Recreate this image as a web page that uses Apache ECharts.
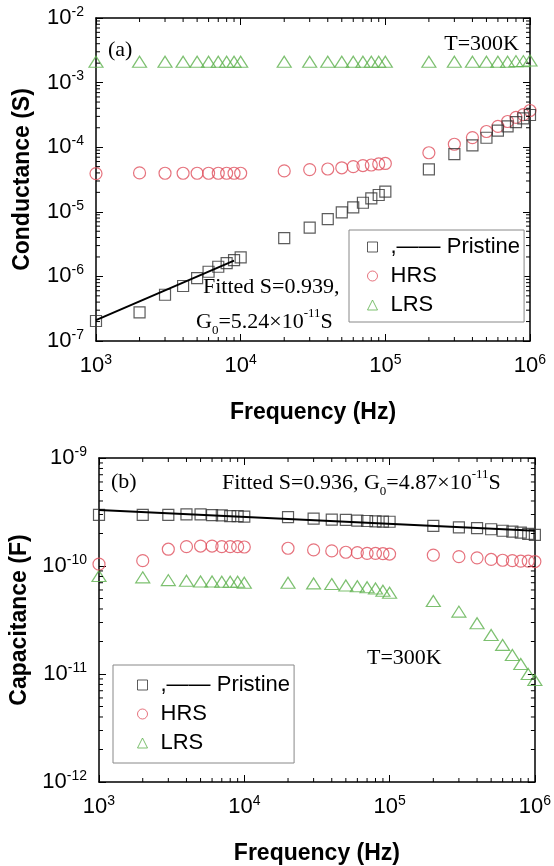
<!DOCTYPE html>
<html>
<head>
<meta charset="utf-8">
<script src="https://cdn.jsdelivr.net/npm/echarts@6/dist/echarts.min.js"></script>
<style>
  html, body { margin: 0; padding: 0; background: #fff; }
  #main { width: 554px; height: 866px; }
</style>
</head>
<body>
<div id="main"></div>
<script>
// frequencies (Hz)
var freq = [1e3, 2e3, 3e3, 4e3, 5e3, 6e3, 7e3, 8e3, 9e3, 1e4,
            2e4, 3e4, 4e4, 5e4, 6e4, 7e4, 8e4, 9e4, 1e5,
            2e5, 3e5, 4e5, 5e5, 6e5, 7e5, 8e5, 9e5, 1e6];

// (a) conductance (S)
var condPristine = [2.04e-7, 2.78e-7, 5.2e-7, 7.1e-7, 9.4e-7, 1.18e-6, 1.41e-6, 1.6e-6, 1.79e-6, 1.97e-6,
                    3.9e-6, 5.7e-6, 7.7e-6, 9.8e-6, 1.17e-5, 1.38e-5, 1.61e-5, 1.82e-5, 2.05e-5,
                    4.55e-5, 7.8e-5, 1.07e-4, 1.4e-4, 1.8e-4, 2.1e-4, 2.45e-4, 2.8e-4, 3.15e-4];
var condHRS = [3.9e-5, 4.0e-5, 3.95e-5, 3.95e-5, 3.95e-5, 3.95e-5, 3.95e-5, 3.95e-5, 3.95e-5, 3.95e-5,
               4.3e-5, 4.5e-5, 4.6e-5, 4.8e-5, 5.0e-5, 5.2e-5, 5.3e-5, 5.5e-5, 5.6e-5,
               8.2e-5, 1.11e-4, 1.41e-4, 1.75e-4, 2.1e-4, 2.5e-4, 2.9e-4, 3.2e-4, 3.7e-4];
var condLRS = [2.1e-3, 2.1e-3, 2.1e-3, 2.1e-3, 2.1e-3, 2.1e-3, 2.1e-3, 2.1e-3, 2.1e-3, 2.1e-3,
               2.1e-3, 2.1e-3, 2.1e-3, 2.1e-3, 2.1e-3, 2.1e-3, 2.1e-3, 2.1e-3, 2.1e-3,
               2.1e-3, 2.1e-3, 2.1e-3, 2.1e-3, 2.1e-3, 2.1e-3, 2.15e-3, 2.15e-3, 2.2e-3];
var condFit = [[1e3, 2.1e-7], [9e3, 1.75e-6]];

// (b) capacitance (F)
var capPristine = [2.97e-10, 2.97e-10, 2.97e-10, 3.01e-10, 3.01e-10, 2.96e-10, 2.94e-10, 2.9e-10, 2.9e-10, 2.86e-10,
                   2.84e-10, 2.74e-10, 2.69e-10, 2.67e-10, 2.63e-10, 2.61e-10, 2.59e-10, 2.58e-10, 2.57e-10,
                   2.35e-10, 2.28e-10, 2.24e-10, 2.19e-10, 2.12e-10, 2.08e-10, 2.04e-10, 1.98e-10, 1.94e-10];
var capHRS = [1.04e-10, 1.12e-10, 1.43e-10, 1.51e-10, 1.53e-10, 1.53e-10, 1.51e-10, 1.51e-10, 1.51e-10, 1.5e-10,
              1.46e-10, 1.41e-10, 1.38e-10, 1.34e-10, 1.33e-10, 1.31e-10, 1.31e-10, 1.3e-10, 1.29e-10,
              1.26e-10, 1.22e-10, 1.19e-10, 1.15e-10, 1.13e-10, 1.12e-10, 1.11e-10, 1.11e-10, 1.1e-10];
var capLRS = [8.07e-11, 7.85e-11, 7.4e-11, 7.3e-11, 7.2e-11, 7.2e-11, 7.15e-11, 7.15e-11, 7.15e-11, 7.0e-11,
              7.0e-11, 6.9e-11, 6.8e-11, 6.6e-11, 6.5e-11, 6.35e-11, 6.2e-11, 5.9e-11, 5.66e-11,
              4.74e-11, 3.78e-11, 2.95e-11, 2.3e-11, 1.86e-11, 1.5e-11, 1.24e-11, 1.0e-11, 8.8e-12];
var capFit = [[1e3, 3.3e-10], [1e6, 2.12e-10]];

// minor tick positions (2..9 within each decade)
var mant = [2, 3, 4, 5, 6, 7, 8, 9];
var xDecades = [1e3, 1e4, 1e5];
var yDecadesA = [1e-7, 1e-6, 1e-5, 1e-4, 1e-3];
var yDecadesB = [1e-12, 1e-11, 1e-10];

function minors(decades) {
  var out = [];
  decades.forEach(function (d) { mant.forEach(function (m) { out.push(m * d); }); });
  return out;
}

var sans = '"Liberation Sans", Arial, sans-serif';
var serif = '"Liberation Serif", "Times New Roman", serif';
var colBlack = '#333333', colRed = '#e0505e', colGreen = '#5cb04c';

function pair(ys) { return freq.map(function (f, i) { return [f, ys[i]]; }); }

var powLabel = {
  color: '#000',
  formatter: function (v) { return '{b|10}{s|' + Math.round(Math.log10(v)) + '}'; },
  rich: {
    b: { fontSize: 22, fontFamily: sans, color: '#000', lineHeight: 26 },
    s: { fontSize: 14, fontFamily: sans, color: '#000', verticalAlign: 'top', lineHeight: 14 }
  }
};

function xAxes(grid, min, max) {
  return [
    { type: 'log', gridIndex: grid, min: min, max: max, position: 'bottom',
      name: 'Frequency (Hz)', nameLocation: 'middle', nameGap: 60,
      nameTextStyle: { fontFamily: sans, fontSize: 23, fontWeight: 'bold', color: '#000' },
      axisLine: { lineStyle: { color: '#000', width: 1.5 } },
      axisTick: { inside: true, length: 7, lineStyle: { color: '#000' } },
      axisLabel: Object.assign({ margin: 12 }, powLabel),
      splitLine: { show: false } },
    { type: 'log', gridIndex: grid, min: min, max: max, position: 'top',
      axisLine: { lineStyle: { color: '#000', width: 1.5 } },
      axisTick: { inside: true, length: 7, lineStyle: { color: '#000' } },
      axisLabel: { show: false }, splitLine: { show: false } }
  ];
}

function yAxes(grid, min, max, name) {
  return [
    { type: 'log', gridIndex: grid, min: min, max: max, position: 'left',
      name: name, nameLocation: 'middle', nameGap: 62, nameRotate: 90,
      nameTextStyle: { fontFamily: sans, fontSize: 23, fontWeight: 'bold', color: '#000' },
      axisLine: { lineStyle: { color: '#000', width: 1.5 } },
      axisTick: { inside: true, length: 7, lineStyle: { color: '#000' } },
      axisLabel: Object.assign({ margin: 12 }, powLabel),
      splitLine: { show: false } },
    { type: 'log', gridIndex: grid, min: min, max: max, position: 'right',
      axisLine: { lineStyle: { color: '#000', width: 1.5 } },
      axisTick: { inside: true, length: 7, lineStyle: { color: '#000' } },
      axisLabel: { show: false }, splitLine: { show: false } }
  ];
}

// minor ticks, placed through the axis scale
function xMinorSeries(xi, yi, yRef) {
  return {
    type: 'custom', xAxisIndex: xi, yAxisIndex: yi, silent: true, z: 10,
    data: minors(xDecades).map(function (v) { return [v, yRef]; }),
    renderItem: function (p, api) {
      var x = api.coord([api.value(0), api.value(1)])[0];
      var cs = p.coordSys;
      var b = cs.y + cs.height, t = cs.y;
      return {
        type: 'group',
        children: [
          { type: 'rect', shape: { x: x - 0.5, y: b - 4, width: 1, height: 4 }, style: { fill: '#000' } },
          { type: 'rect', shape: { x: x - 0.5, y: t, width: 1, height: 4 }, style: { fill: '#000' } }
        ]
      };
    }
  };
}

function yMinorSeries(xi, yi, decades) {
  return {
    type: 'custom', xAxisIndex: xi, yAxisIndex: yi, silent: true, z: 10,
    data: minors(decades).map(function (v) { return [1e4, v]; }),
    renderItem: function (p, api) {
      var y = api.coord([api.value(0), api.value(1)])[1];
      var cs = p.coordSys;
      var l = cs.x, r = cs.x + cs.width;
      return {
        type: 'group',
        children: [
          { type: 'rect', shape: { x: l, y: y - 0.5, width: 4, height: 1 }, style: { fill: '#000' } },
          { type: 'rect', shape: { x: r - 4, y: y - 0.5, width: 4, height: 1 }, style: { fill: '#000' } }
        ]
      };
    }
  };
}

function scatter(name, xi, yi, data, symbol, size, color) {
  return {
    name: name, type: 'scatter', xAxisIndex: xi, yAxisIndex: yi,
    data: data, symbol: symbol, symbolSize: size, z: 3,
    itemStyle: { color: 'rgba(0,0,0,0)', borderColor: color, borderWidth: 1.2 }
  };
}

var legendData = [
  { name: 'Pristine', icon: 'rect', itemStyle: { color: 'rgba(0,0,0,0)', borderColor: colBlack, borderWidth: 1 } },
  { name: 'HRS', icon: 'circle', itemStyle: { color: 'rgba(0,0,0,0)', borderColor: colRed, borderWidth: 1 } },
  { name: 'LRS', icon: 'triangle', itemStyle: { color: 'rgba(0,0,0,0)', borderColor: colGreen, borderWidth: 1 } }
];

function legend(left, top, pad) {
  return {
    data: legendData, orient: 'vertical', left: left, top: top,
    selectedMode: false, itemWidth: 10, itemHeight: 10, itemGap: 7,
    padding: pad, borderColor: '#888', borderWidth: 1, backgroundColor: '#fff',
    formatter: function (n) { return n === 'Pristine' ? ',\u2014\u2014 Pristine' : n; },
    textStyle: { fontFamily: sans, fontSize: 22, color: '#000', lineHeight: 22, padding: [0, 0, 0, 8] }
  };
}

function txt(x, y, text, rich, align) {
  var style = { text: text, x: 0, y: 0, fill: '#000', font: '22px ' + serif, align: align || 'left', verticalAlign: 'middle' };
  if (rich) {
    style.rich = {
      n: { fontSize: 22, fontFamily: serif, color: '#000', lineHeight: 30, verticalAlign: 'middle' },
      sub: { fontSize: 13, fontFamily: serif, color: '#000', lineHeight: 13, verticalAlign: 'bottom' },
      sup: { fontSize: 13, fontFamily: serif, color: '#000', lineHeight: 13, verticalAlign: 'top' }
    };
  }
  return { type: 'text', x: x, y: y, z: 100, style: style };
}

var chart = echarts.init(document.getElementById('main'));
chart.setOption({
  backgroundColor: '#fff',
  animation: false,
  grid: [
    { left: 96, top: 18, width: 434, height: 323 },
    { left: 99, top: 458, width: 436, height: 324 }
  ],
  xAxis: xAxes(0, 1e3, 1e6).concat(xAxes(1, 1e3, 1e6)),
  yAxis: yAxes(0, 1e-7, 1e-2, 'Conductance (S)').concat(yAxes(1, 1e-12, 1e-9, 'Capacitance (F)')),
  legend: [
    legend(349, 230, [6, 4, 6, 18]),
    legend(113, 665, [9, 4, 9, 24])
  ],
  series: [
    scatter('LRS', 0, 0, pair(condLRS), 'triangle', [14, 11], colGreen),
    scatter('HRS', 0, 0, pair(condHRS), 'circle', 12, colRed),
    scatter('Pristine', 0, 0, pair(condPristine), 'rect', 11, colBlack),
    { type: 'line', xAxisIndex: 0, yAxisIndex: 0, data: condFit, symbol: 'none', z: 4,
      lineStyle: { color: '#000', width: 2 } },
    scatter('LRS', 2, 2, pair(capLRS), 'triangle', [14, 11], colGreen),
    scatter('HRS', 2, 2, pair(capHRS), 'circle', 12, colRed),
    scatter('Pristine', 2, 2, pair(capPristine), 'rect', 11, colBlack),
    { type: 'line', xAxisIndex: 2, yAxisIndex: 2, data: capFit, symbol: 'none', z: 4,
      lineStyle: { color: '#000', width: 2 } },
    xMinorSeries(0, 0, 1e-4),
    yMinorSeries(0, 0, yDecadesA),
    xMinorSeries(2, 2, 1e-10),
    yMinorSeries(2, 2, yDecadesB)
  ],
  graphic: [
    txt(108, 50, '(a)'),
    txt(519, 44, 'T=300K', null, 'right'),
    txt(203, 287, 'Fitted S=0.939,'),
    txt(196, 322, '{n|G}{sub|0}{n|=5.24\u00d710}{sup|-11}{n|S}', true),
    txt(111, 482, '(b)'),
    txt(222, 483, '{n|Fitted S=0.936, G}{sub|0}{n|=4.87\u00d710}{sup|-11}{n|S}', true),
    txt(367, 658, 'T=300K')
  ]
});
</script>
</body>
</html>
